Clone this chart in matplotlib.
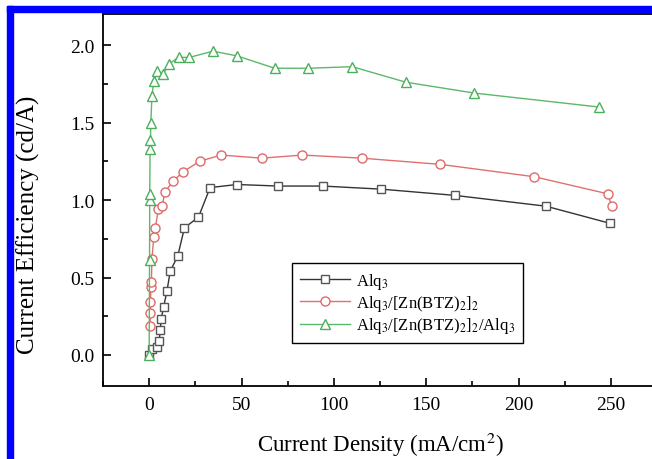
import matplotlib
matplotlib.use('Agg')
import matplotlib.pyplot as plt
import matplotlib.ticker as mticker
from matplotlib.patches import Rectangle

plt.rcParams['font.family'] = 'Liberation Serif'
plt.rcParams['mathtext.fontset'] = 'stix'

# Alq3
alq_x = [0.0, 1.8, 4.5, 5.4, 6.0, 6.5, 7.8, 9.6, 11.4, 15.5, 19.1, 26.7, 33.0,
         47.5, 70.0, 94.0, 125.7, 165.4, 214.9, 249.4]
alq_y = [0.0, 0.04, 0.05, 0.09, 0.16, 0.23, 0.31, 0.41, 0.54, 0.64, 0.82, 0.89, 1.08,
         1.10, 1.09, 1.09, 1.07, 1.03, 0.96, 0.85]

# Alq3/[Zn(BTZ)2]2
zn_x = [0.5, 0.6, 0.7, 0.9, 1.2, 1.5, 2.5, 3.3, 5.0, 7.0, 8.5, 12.8, 18.2, 27.3,
        39.0, 61.0, 83.0, 115.0, 157.6, 208.6, 248.3, 250.5]
zn_y = [0.19, 0.27, 0.34, 0.44, 0.47, 0.62, 0.76, 0.82, 0.94, 0.96, 1.05, 1.12, 1.18, 1.25,
        1.29, 1.27, 1.29, 1.27, 1.23, 1.15, 1.04, 0.96]

# Alq3/[Zn(BTZ)2]2/Alq3
tri_x = [0.0, 0.2, 0.3, 0.3, 0.5, 0.7, 0.9, 1.5, 2.5, 4.2, 7.4, 11.0, 15.9, 21.8,
         34.5, 47.5, 68.0, 86.0, 110.0, 139.0, 176.0, 243.5]
tri_y = [0.0, 0.61, 1.0, 1.04, 1.33, 1.39, 1.50, 1.67, 1.77, 1.83, 1.81, 1.88, 1.92, 1.92,
         1.96, 1.93, 1.85, 1.85, 1.86, 1.76, 1.69, 1.60]

labels = [r'Alq$_3$', r'Alq$_3$/[Zn(BTZ)$_2$]$_2$', r'Alq$_3$/[Zn(BTZ)$_2$]$_2$/Alq$_3$']

fig = plt.figure(figsize=(6.52, 4.6), dpi=100)
ax = fig.add_axes([103 / 652, 73 / 460, 554 / 652, 372 / 460])

ax.plot(alq_x, alq_y, '-s', color='#333333', mfc='white', mec='#555555',
        ms=5.5, mew=1.0, lw=1.0, label=labels[0])
ax.plot(zn_x, zn_y, '-o', color='#e07070', mfc='white', mec='#dd6a6a',
        ms=6.5, mew=1.0, lw=1.0, label=labels[1])
ax.plot(tri_x, tri_y, '-^', color='#5cb86a', mfc='white', mec='#4caf5c',
        ms=7, mew=1.0, lw=1.0, label=labels[2])

ax.set_xlim(-25, 275)
ax.set_ylim(-0.2, 2.2)
ax.xaxis.set_major_locator(mticker.MultipleLocator(50))
ax.xaxis.set_minor_locator(mticker.MultipleLocator(25))
ax.yaxis.set_major_locator(mticker.MultipleLocator(0.5))
ax.yaxis.set_minor_locator(mticker.MultipleLocator(0.25))
ax.yaxis.set_major_formatter(mticker.FormatStrFormatter('%.1f'))
ax.tick_params(which='both', direction='in', labelsize=14, width=1.2)
ax.tick_params(which='major', length=6)
ax.tick_params(which='minor', length=3.5)
ax.tick_params(axis='x', pad=7)
ax.tick_params(axis='y', pad=6)
for s in ax.spines.values():
    s.set_linewidth(1.3)

ax.set_xlabel(r'Current Density (mA/cm$^2$)', fontsize=16.5, labelpad=12)
ax.set_ylabel('Current Efficiency (cd/A)', fontsize=18)
ax.yaxis.set_label_coords(-0.113, 0.435)

leg = ax.legend(loc='upper left', bbox_to_anchor=(292 / 652, 1 - 264 / 460),
                bbox_transform=fig.transFigure, fontsize=12, fancybox=False,
                edgecolor='black', framealpha=1, handlelength=3.0,
                handletextpad=0.4, borderpad=0.45, labelspacing=0.15,
                borderaxespad=0)
leg.get_frame().set_linewidth(1.0)

# blue frame along the top and left edges
fig.patches.append(Rectangle((7 / 652, 1 - 13 / 460), 1, 6 / 460,
                             transform=fig.transFigure, color='#0000ff', zorder=5))
fig.patches.append(Rectangle((7 / 652, 0), 6 / 652, 1 - 7 / 460,
                             transform=fig.transFigure, color='#0000ff', zorder=5))

fig.savefig('out.png', dpi=100)
